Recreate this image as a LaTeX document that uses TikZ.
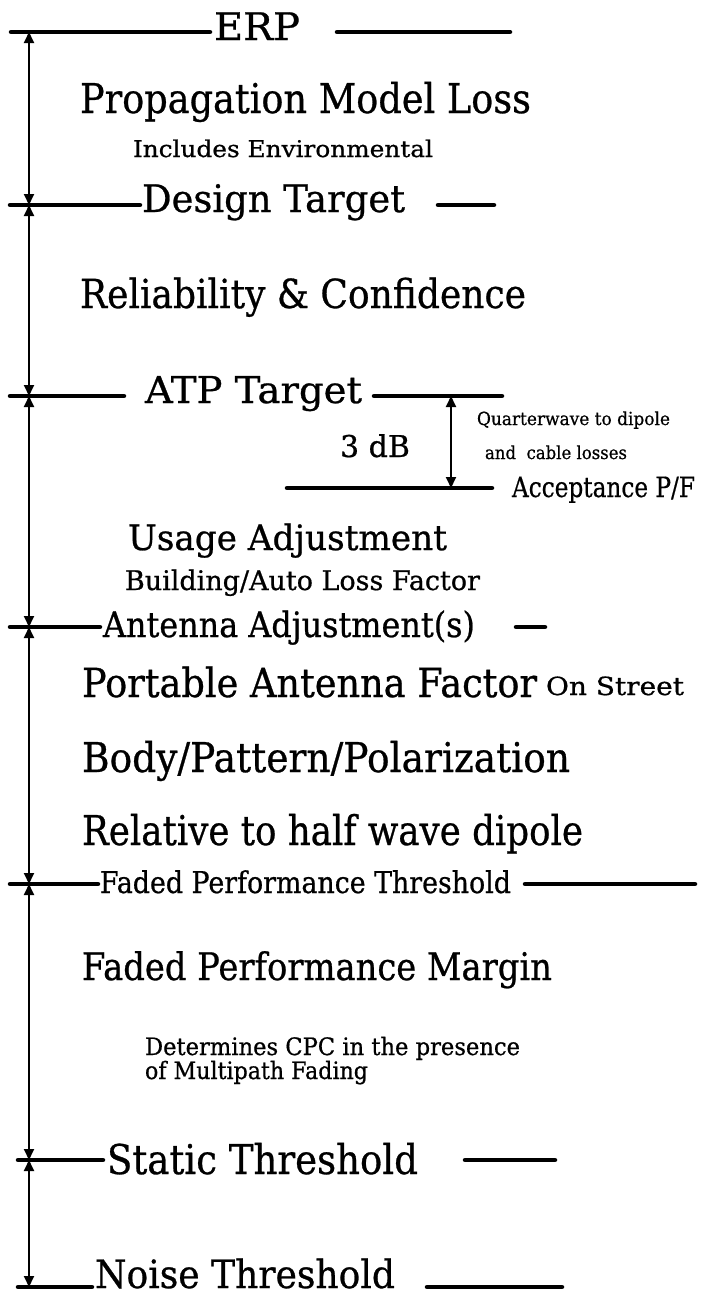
\documentclass[tikz,border=0pt]{standalone}
\usepackage{fontspec}
\setmainfont{DejaVu Serif}[FakeBold=0.7]
\usetikzlibrary{arrows.meta}

% text set at a given size and stretched/condensed to a given width
\newcommand\lbl[3]{\resizebox{#2pt}{\height}{\fontsize{#1pt}{#1pt}\selectfont #3}}

\tikzset{
  level/.style={line width=4.5pt, line cap=round},
  span/.style={line width=1.8pt, {Triangle[length=11pt,width=10pt]}-{Triangle[length=11pt,width=10pt]}},
  txt/.style={anchor=base west, inner sep=0pt, outer sep=0pt},
}

\begin{document}
\begin{tikzpicture}[x=1pt,y=-1pt]
\useasboundingbox (0,0) rectangle (702,1296);

% ---- level coordinates on the vertical axis
\coordinate (a0) at (29,32);
\coordinate (a1) at (29,205);
\coordinate (a2) at (29,396);
\coordinate (a3) at (29,627);
\coordinate (a4) at (29,884);
\coordinate (a5) at (29,1160);
\coordinate (a6) at (29,1287);

% ---- ERP
\node[txt] (erp) at (214,40) {\lbl{38}{86}{ERP}};
\draw[level] (11,32) -- (210,32);
\draw[level] (337,32) -- (510,32);
\node[txt] (prop) at (80,113) {\lbl{41}{451}{Propagation Model Loss}};
\node[txt] (env) at (133,157) {\lbl{23}{300}{Includes Environmental}};

% ---- Design Target
\node[txt] (dt) at (142,212) {\lbl{38}{263}{Design Target}};
\draw[level] (10,205) -- (140,205);
\draw[level] (438,205) -- (494,205);
\node[txt] (rel) at (80,308) {\lbl{40}{446}{Reliability \& Confidence}};

% ---- ATP Target and acceptance
\node[txt] (atp) at (145,403) {\lbl{37}{217}{ATP Target}};
\draw[level] (10,396) -- (124,396);
\coordinate (atpR0) at (374,396);
\coordinate (atpR1) at (502,396);
\draw[level] (atpR0) -- (atpR1);
\coordinate (accL) at (287,488);
\coordinate (accR) at (492,488);
\draw[level] (accL) -- (accR);
\coordinate (d0) at (451,396);
\coordinate (d1) at (451,488);
\draw[span] (d0) -- (d1);
\node[txt] (db) at (340,457) {\lbl{30}{70}{3 dB}};
\node[txt] (qw) at (477,425) {\lbl{18}{193}{Quarterwave to dipole}};
\node[txt] (cab) at (485,459) {\lbl{18}{142}{and\ \ cable losses}};
\node[txt] (acc) at (512,497) {\lbl{28}{183}{Acceptance P/F}};

% ---- Usage adjustment
\node[txt] (usage) at (128,550) {\lbl{35}{319}{Usage Adjustment}};
\node[txt] (bld) at (125,590) {\lbl{27}{355}{Building/Auto Loss Factor}};

% ---- Antenna adjustment
\node[txt] (ant) at (103,637) {\lbl{35}{372}{Antenna Adjustment(s)}};
\draw[level] (10,627) -- (100,627);
\draw[level] (516,627) -- (545,627);
\node[txt] (paf) at (82,697) {\lbl{40}{455}{Portable Antenna Factor}};
\node[txt] (street) at (546,695) {\lbl{25}{138}{On Street}};
\node[txt] (body) at (82,772) {\lbl{41}{488}{Body/Pattern/Polarization}};
\node[txt] (hwd) at (82,845) {\lbl{41}{501}{Relative to half wave dipole}};

% ---- Faded performance threshold
\node[txt] (fpt) at (100,893) {\lbl{30}{411}{Faded Performance Threshold}};
\draw[level] (10,884) -- (98,884);
\draw[level] (525,884) -- (695,884);
\node[txt] (fpm) at (82,980) {\lbl{38}{470}{Faded Performance Margin}};
\node[txt] (cpc) at (145,1055) {\lbl{24}{375}{Determines CPC in the presence}};
\node[txt] (mpf) at (145,1079) {\lbl{24}{223}{of Multipath Fading}};

% ---- Static threshold
\node[txt] (st) at (107,1174) {\lbl{41}{311}{Static Threshold}};
\draw[level] (18,1160) -- (103,1160);
\draw[level] (465,1160) -- (555,1160);

% ---- Noise threshold
\node[txt] (nt) at (95,1288) {\lbl{39}{300}{Noise Threshold}};
\draw[level] (18,1287) -- (92,1287);
\draw[level] (427,1287) -- (562,1287);

% ---- spans between levels
\draw[span] (a0) -- (a1);
\draw[span] (a1) -- (a2);
\draw[span] (a2) -- (a3);
\draw[span] (a3) -- (a4);
\draw[span] (a4) -- (a5);
\draw[span] (a5) -- (a6);
\end{tikzpicture}
\end{document}
